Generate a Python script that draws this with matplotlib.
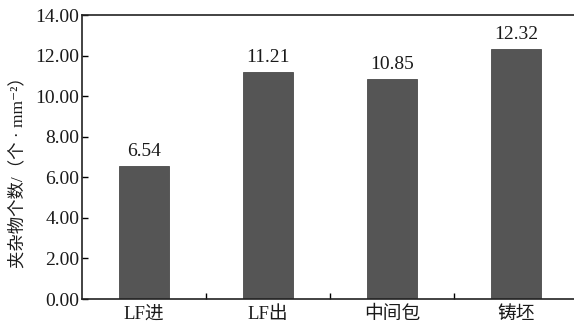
import matplotlib.pyplot as plt
import numpy as np

plt.rcParams['font.family'] = ['Liberation Serif', 'DejaVu Serif', 'Noto Sans CJK SC']
plt.rcParams['axes.unicode_minus'] = False

categories = ['LF进', 'LF出', '中间包', '铸坯']
values = [6.54, 11.21, 10.85, 12.32]
yticks = [0, 2, 4, 6, 8, 10, 12, 14]

fig = plt.figure(figsize=(5.74, 3.28), dpi=100)
# axes box: left 82px, bottom 299px, top 15px, right edge past the figure
ax = fig.add_axes([82/574, (328-299)/328, 496/574, 284/328])

x = np.arange(len(categories))
ax.bar(x, values, width=0.4, color='#555555', edgecolor='#4a4a4a', linewidth=0.6, zorder=2)
for xi, v in zip(x, values):
    ax.text(xi, v + 0.3, '%.2f' % v, ha='center', va='bottom', fontsize=14,
            color='#1a1a1a')

ax.set_xlim(-0.5, 3.5)
ax.set_ylim(0, 14)
ax.set_yticks(yticks)
ax.set_yticklabels(['%.2f' % t for t in yticks], fontsize=14, color='#1a1a1a')
ax.set_xticks(x)
ax.set_xticklabels(categories, fontsize=13.5, color='#1a1a1a')
ax.tick_params(axis='x', length=0, pad=5)
ax.set_xticks([0.5, 1.5, 2.5], minor=True)
ax.tick_params(axis='x', which='minor', direction='in', length=4, width=1)
ax.tick_params(axis='y', direction='in', length=4, width=1, pad=2)

for s in ['left', 'bottom', 'top']:
    ax.spines[s].set_linewidth(1.2)
    ax.spines[s].set_color('#222222')
ax.spines['right'].set_visible(False)

ax.set_ylabel('夹杂物个数/（个 · mm⁻²）', fontsize=12.5, color='#1a1a1a')
ax.yaxis.set_label_coords(-0.113, 0.46)

plt.savefig('out.png', dpi=100)
